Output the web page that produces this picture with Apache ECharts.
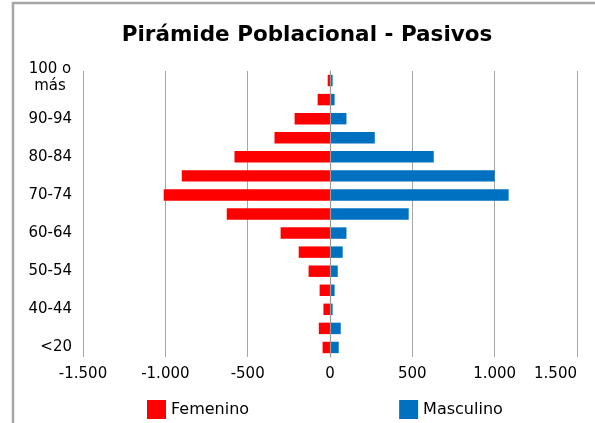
<html>
<head>
    <meta http-equiv="Content-Type" content="text/html; charset=utf-8">
    <script src="https://cdn.jsdelivr.net/npm/echarts@6/dist/echarts.min.js"></script>
    <style>
        * {
            margin: 0;
            padding: 0;
        }

        #main {
            width: 595px;
            height: 423px;
            background: #ffffff;
        }
    </style>
</head>
<body>
<div id="main"></div>
<script type="text/javascript">
    // grupos de edad, de abajo hacia arriba
    let ageGroups = ['<20', '20-39', '40-44', '45-49', '50-54', '55-59', '60-64', '65-69',
        '70-74', '75-79', '80-84', '85-89', '90-94', '95-99', '100 o\nmás'];
    // valores (femenino en negativo)
    let femenino = [-45, -68, -40, -63, -130, -190, -300, -627, -1010, -900, -580, -337, -215, -75, -14];
    let masculino = [53, 65, 16, 28, 47, 77, 100, 478, 1085, 1000, 630, 272, 100, 28, 16];
    let xTicks = [-1500, 1500, 500];

    let fontName = 'DejaVu Sans';

    function fmt(v) {
        let s = String(Math.abs(v)).replace(/\B(?=(\d{3})+(?!\d))/g, '.');
        return (v < 0 ? '-' : '') + s;
    }

    // etiqueta de dos líneas centrada y algo subida, el resto alineado a la derecha
    function fmtCat(v) {
        if (v.indexOf('\n') >= 0) {
            return v.split('\n').map(function (p) {
                return '{c|' + p + '}';
            }).join('\n') + '\n{e|}';
        }
        return v;
    }

    let myChart = echarts.init(document.getElementById('main'));

    let option = {
        animation: false,
        textStyle: {fontFamily: fontName, color: '#000000'},
        title: {
            text: 'Pirámide Poblacional - Pasivos',
            left: 302,
            top: 19,
            textAlign: 'center',
            textStyle: {fontFamily: fontName, fontSize: 21.5, fontWeight: 'bold', color: '#000000'}
        },
        graphic: [{
            type: 'rect',
            shape: {x: 13, y: 3, width: 640, height: 480},
            style: {fill: 'none', stroke: '#a6a6a6', lineWidth: 2.5},
            silent: true
        }],
        legend: {
            left: 142,
            top: 395,
            itemWidth: 19,
            itemHeight: 19,
            itemGap: 150,
            icon: 'rect',
            textStyle: {fontFamily: fontName, fontSize: 16, color: '#000000'},
            data: ['Femenino', 'Masculino']
        },
        grid: {left: 83, right: 18, top: 71, bottom: 66, containLabel: false, outerBoundsMode: 'none'},
        xAxis: {
            type: 'value',
            min: xTicks[0],
            max: xTicks[1],
            interval: xTicks[2],
            axisLine: {show: false},
            axisTick: {show: false},
            splitLine: {show: true, lineStyle: {color: '#a6a6a6', width: 1}},
            axisLabel: {
                formatter: fmt,
                fontFamily: fontName,
                fontSize: 15,
                color: '#000000',
                margin: 10,
                alignMaxLabel: 'right'
            }
        },
        yAxis: {
            type: 'category',
            data: ageGroups,
            z: 5,
            axisLine: {show: true, lineStyle: {color: '#999999', width: 1.2}},
            axisTick: {show: false},
            axisLabel: {
                interval: 1,
                formatter: fmtCat,
                fontFamily: fontName,
                fontSize: 15,
                color: '#000000',
                margin: 11,
                align: 'right',
                rich: {
                    c: {width: 44, align: 'center', fontFamily: fontName, fontSize: 15, lineHeight: 17, color: '#000000'},
                    e: {lineHeight: 6, fontSize: 1}
                }
            }
        },
        series: [
            {
                name: 'Femenino',
                type: 'bar',
                data: femenino,
                barWidth: '60%',
                barGap: '-100%',
                itemStyle: {color: '#ff0000'}
            },
            {
                name: 'Masculino',
                type: 'bar',
                data: masculino,
                barWidth: '60%',
                itemStyle: {color: '#0070c0'}
            }
        ]
    };

    myChart.setOption(option);
</script>
</body>
</html>
